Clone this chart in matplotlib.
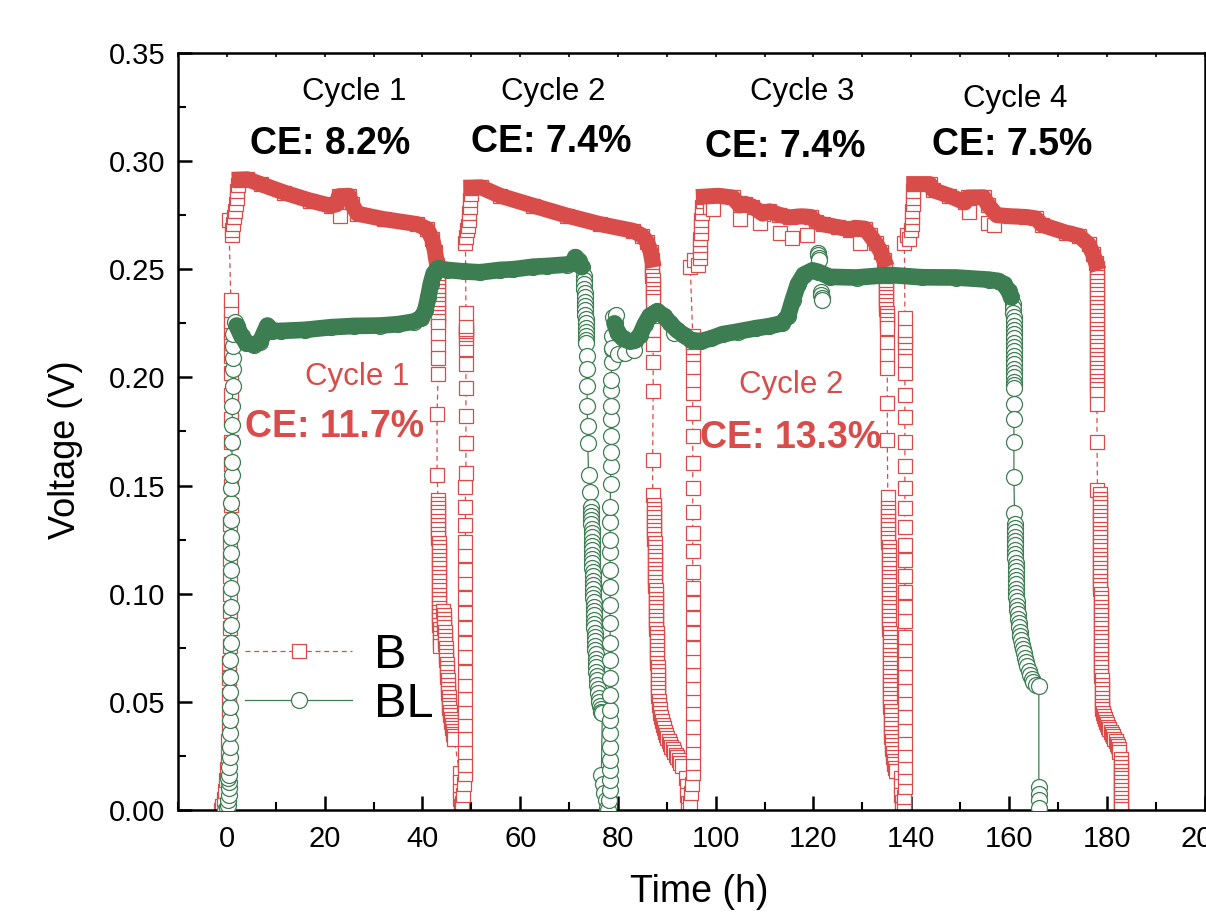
import numpy as np
import matplotlib
matplotlib.use("Agg")
import matplotlib.pyplot as plt
from matplotlib.ticker import MultipleLocator, FormatStrFormatter

RED = "#D84C49"
GREEN = "#3C7D52"

# ---------------- B (red squares), (time h, voltage V) ----------------
b_c1_rise = [(-1.2, 0.000), (-0.9, 0.002), (-0.6, 0.005), (-0.4, 0.009), (-0.2, 0.014), (0.0, 0.019),
             (0.2, 0.025), (0.3, 0.032), (0.4, 0.039), (0.4, 0.046), (0.5, 0.053), (0.5, 0.061),
             (0.5, 0.068), (0.6, 0.076), (0.6, 0.084), (0.6, 0.092), (0.6, 0.100), (0.7, 0.108),
             (0.7, 0.116), (0.7, 0.124), (0.7, 0.132), (0.8, 0.141), (0.8, 0.150), (0.8, 0.160),
             (0.8, 0.170), (0.8, 0.181), (0.8, 0.192), (0.8, 0.202), (0.8, 0.210), (0.8, 0.216),
             (0.8, 0.221), (0.8, 0.226), (0.8, 0.231), (0.8, 0.236), (0.4, 0.273)]
b_c1_top = [(1.0, 0.266), (1.1, 0.268), (1.3, 0.271), (1.5, 0.274), (1.7, 0.277), (1.8, 0.280),
            (2.0, 0.283), (2.1, 0.286), (2.3, 0.289)]
b_c1_band = [(2.6, 0.2915), (4.2, 0.2916), (6.9, 0.2894), (11.7, 0.2855), (17.1, 0.2817), (21.2, 0.2794),
             (22.4, 0.2800), (22.9, 0.2838), (25.0, 0.2840), (25.6, 0.2800), (26.7, 0.2757), (32.1, 0.2732),
             (38.9, 0.2709), (41.0, 0.2686), (42.0, 0.2640), (42.6, 0.2580), (43.0, 0.2520)]
b_c1_drop = [(43.10, 0.248), (43.10, 0.246), (43.12, 0.244), (43.12, 0.242), (43.14, 0.240), (43.14, 0.238),
             (43.16, 0.236), (43.16, 0.234), (43.18, 0.232), (43.18, 0.230), (43.20, 0.228), (43.20, 0.226),
             (43.20, 0.224), (43.2, 0.219), (43.2, 0.214), (43.2, 0.209), (43.2, 0.2015), (43.0, 0.183),
             (43.0, 0.155)]
b_c1_col1 = [(43.20, 0.1435), (43.20, 0.1415), (43.21, 0.1396), (43.22, 0.1376), (43.23, 0.1357),
             (43.24, 0.1336), (43.25, 0.1316), (43.26, 0.1297), (43.27, 0.1277), (43.28, 0.1256),
             (43.29, 0.1236), (43.30, 0.1217), (43.31, 0.1197), (43.32, 0.1176), (43.33, 0.1156),
             (43.34, 0.1137), (43.35, 0.1117), (43.36, 0.1096), (43.37, 0.1076), (43.38, 0.1057),
             (43.39, 0.1037), (43.40, 0.1016), (43.41, 0.0996), (43.42, 0.0977), (43.43, 0.0957),
             (43.44, 0.0936), (43.45, 0.0916), (43.46, 0.0897), (43.47, 0.0877), (43.48, 0.0856),
             (43.50, 0.0836), (43.52, 0.0817), (43.54, 0.0797), (43.57, 0.0776), (43.60, 0.0756)]
b_c1_col2 = [(44.30, 0.0920), (44.35, 0.0901), (44.40, 0.0882), (44.45, 0.0864), (44.50, 0.0845),
             (44.55, 0.0825), (44.60, 0.0806), (44.65, 0.0787), (44.70, 0.0768), (44.75, 0.0750),
             (44.80, 0.0731), (44.85, 0.0711), (44.90, 0.0692), (44.95, 0.0674), (45.00, 0.0655),
             (45.05, 0.0636), (45.10, 0.0617), (45.15, 0.0599), (45.20, 0.0580), (45.25, 0.0561),
             (45.30, 0.0543), (45.35, 0.0524), (45.40, 0.0505), (45.45, 0.0487), (45.50, 0.0470),
             (45.60, 0.0454), (45.70, 0.0438), (45.80, 0.0421), (45.90, 0.0405), (46.00, 0.0391),
             (46.10, 0.0378), (46.20, 0.0365), (46.30, 0.0352), (46.40, 0.0341), (46.50, 0.0330)]
b_c2_rise = [(47.6, 0.017), (47.6, 0.013), (47.7, 0.009), (47.7, 0.005), (47.8, 0.002), (47.9, 0.000),
             (48.1, 0.003), (48.3, 0.007), (48.5, 0.012), (48.7, 0.0165), (48.8, 0.0207), (48.8, 0.0269),
             (48.8, 0.0330), (48.8, 0.0392), (48.8, 0.0454), (48.8, 0.0515), (48.8, 0.0577), (48.8, 0.0639),
             (48.8, 0.0708), (48.8, 0.0770), (48.8, 0.0840), (48.8, 0.0910), (48.8, 0.0980), (48.8, 0.1049),
             (48.8, 0.1110), (48.8, 0.1179), (48.8, 0.1241), (48.8, 0.1318), (48.8, 0.1403), (48.8, 0.1495),
             (48.9, 0.1560), (48.9, 0.1698), (48.9, 0.1821), (48.9, 0.1952), (48.9, 0.2060), (48.9, 0.2130),
             (48.9, 0.2184), (48.9, 0.2200), (48.9, 0.2214), (48.9, 0.2226), (48.9, 0.2238), (48.9, 0.2299)]
b_c2_top = [(48.8, 0.2620), (49.0, 0.2650), (49.2, 0.2680), (49.4, 0.2700), (49.5, 0.2730), (49.6, 0.2760),
            (49.7, 0.2790), (49.8, 0.2820), (49.9, 0.2850)]
b_c2_band = [(50.0, 0.2878), (52.0, 0.2879), (55.9, 0.2840), (62.7, 0.2794), (69.6, 0.2748), (76.3, 0.2709),
             (83.1, 0.2678), (85.0, 0.2655), (86.0, 0.2625), (86.7, 0.2580), (87.0, 0.2545)]
b_c2_drop = [(87.00, 0.2510), (87.02, 0.2490), (87.05, 0.2470), (87.08, 0.2450), (87.10, 0.2430),
             (87.12, 0.2410), (87.15, 0.2390), (87.18, 0.2372), (87.20, 0.2355), (87.2, 0.2220),
             (87.2, 0.2155), (87.2, 0.2070), (87.2, 0.1936), (87.1, 0.1617), (87.1, 0.1458)]
b_c2_col = [(87.30, 0.1412), (87.32, 0.1392), (87.34, 0.1372), (87.36, 0.1353), (87.38, 0.1333),
            (87.40, 0.1313), (87.42, 0.1293), (87.44, 0.1274), (87.46, 0.1254), (87.48, 0.1234),
            (87.50, 0.1214), (87.52, 0.1195), (87.54, 0.1175), (87.56, 0.1155), (87.58, 0.1135),
            (87.60, 0.1116), (87.62, 0.1096), (87.64, 0.1076), (87.66, 0.1056), (87.68, 0.1037),
            (87.70, 0.1017), (87.72, 0.0997), (87.74, 0.0977), (87.76, 0.0958), (87.78, 0.0938),
            (87.80, 0.0918), (87.82, 0.0898), (87.84, 0.0879), (87.86, 0.0859), (87.88, 0.0839),
            (87.90, 0.0819), (87.92, 0.0800), (87.94, 0.0780), (87.96, 0.0760), (87.98, 0.0740),
            (88.00, 0.0721), (88.03, 0.0701), (88.06, 0.0681), (88.09, 0.0662), (88.12, 0.0642),
            (88.15, 0.0622), (88.18, 0.0603), (88.21, 0.0583), (88.24, 0.0564), (88.26, 0.0544),
            (88.28, 0.0525), (88.30, 0.0505), (88.4, 0.0486), (88.5, 0.0467), (88.6, 0.0448),
            (88.8, 0.0430), (89.0, 0.0412), (89.2, 0.0395), (89.4, 0.0378), (89.6, 0.0362),
            (89.9, 0.0347), (90.1, 0.0332), (90.4, 0.0318), (90.6, 0.0305), (90.9, 0.0292),
            (91.2, 0.0280), (91.5, 0.0268), (91.8, 0.0256), (92.1, 0.0243), (92.4, 0.0230),
            (92.7, 0.0218), (93.0, 0.0205)]
b_c3_rise = [(94.0, 0.015), (94.1, 0.011), (94.2, 0.007), (94.3, 0.003), (94.4, 0.000), (94.8, 0.003),
             (95.0, 0.008), (95.2, 0.012), (95.3, 0.017), (95.3, 0.0216), (95.3, 0.0270), (95.3, 0.0324),
             (95.3, 0.0386), (95.3, 0.0448), (95.3, 0.0509), (95.3, 0.0563), (95.3, 0.0625), (95.3, 0.0687),
             (95.3, 0.0748), (95.3, 0.0818), (95.3, 0.0887), (95.3, 0.0956), (95.3, 0.1026), (95.3, 0.1100),
             (95.3, 0.1196), (95.3, 0.1280), (95.3, 0.1380), (95.3, 0.1490), (95.3, 0.1606), (95.3, 0.1727),
             (95.3, 0.1836), (95.3, 0.1930), (95.3, 0.1990), (95.3, 0.2050), (95.3, 0.2110), (95.3, 0.2140),
             (95.3, 0.2165), (95.3, 0.2190)]
b_c3_top = [(94.8, 0.2510), (95.5, 0.2545), (96.3, 0.2520), (96.7, 0.2550), (96.7, 0.2580), (96.8, 0.2610),
            (96.8, 0.2640), (96.9, 0.2670), (97.0, 0.2700), (97.0, 0.2730), (97.1, 0.2760), (97.2, 0.2790),
            (97.3, 0.2815)]
b_c3_band = [(97.6, 0.2836), (100.5, 0.2840), (103.5, 0.2832), (104.9, 0.2795), (106.0, 0.2803), (107.5, 0.2790),
             (109.6, 0.2757), (111.0, 0.2768), (113.0, 0.2752), (115.1, 0.2740), (117.5, 0.2745), (119.5, 0.2742),
             (120.5, 0.2720), (121.9, 0.2708), (125.0, 0.2695), (127.4, 0.2683), (128.5, 0.2692), (130.5, 0.2688),
             (131.5, 0.2660), (132.8, 0.2620), (133.8, 0.2580), (134.4, 0.2545)]
b_c3_drop = [(134.70, 0.2510), (134.72, 0.2492), (134.74, 0.2475), (134.76, 0.2457), (134.78, 0.2440),
             (134.80, 0.2422), (134.82, 0.2405), (134.84, 0.2387), (134.86, 0.2370), (134.88, 0.2352),
             (134.90, 0.2335), (134.92, 0.2317), (134.94, 0.2300), (134.96, 0.2282), (134.98, 0.2265),
             (135.00, 0.2247), (135.00, 0.2230), (135.1, 0.2160), (135.1, 0.2100), (135.1, 0.2045),
             (135.1, 0.1883), (135.1, 0.1713), (135.2, 0.1448)]
b_c3_col = [(135.30, 0.1398), (135.30, 0.1378), (135.31, 0.1358), (135.31, 0.1338), (135.32, 0.1318),
            (135.32, 0.1298), (135.33, 0.1278), (135.33, 0.1258), (135.34, 0.1238), (135.35, 0.1218),
            (135.36, 0.1198), (135.37, 0.1178), (135.38, 0.1158), (135.39, 0.1138), (135.40, 0.1118),
            (135.41, 0.1098), (135.42, 0.1078), (135.43, 0.1058), (135.44, 0.1038), (135.45, 0.1018),
            (135.46, 0.0998), (135.47, 0.0978), (135.48, 0.0958), (135.49, 0.0938), (135.50, 0.0918),
            (135.51, 0.0898), (135.52, 0.0878), (135.53, 0.0858), (135.54, 0.0838), (135.55, 0.0818),
            (135.56, 0.0798), (135.57, 0.0778), (135.58, 0.0758), (135.59, 0.0738), (135.60, 0.0718),
            (135.61, 0.0698), (135.62, 0.0678), (135.63, 0.0658), (135.64, 0.0638), (135.65, 0.0618),
            (135.66, 0.0598), (135.67, 0.0578), (135.68, 0.0558), (135.69, 0.0538), (135.70, 0.0518),
            (135.72, 0.0498), (135.74, 0.0478), (135.76, 0.0458), (135.78, 0.0438), (135.80, 0.0418),
            (135.82, 0.0398), (135.85, 0.0378), (135.88, 0.0358), (135.95, 0.0338), (136.00, 0.0318),
            (136.05, 0.0299), (136.10, 0.0280), (136.20, 0.0262), (136.30, 0.0245), (136.40, 0.0228),
            (136.50, 0.0212), (136.65, 0.0196), (136.80, 0.0180)]
b_c4_rise = [(137.9, 0.0150), (138.0, 0.0110), (138.0, 0.0070), (138.1, 0.0035), (138.2, 0.0005), (138.5, 0.0023),
             (138.6, 0.0062), (138.7, 0.0108), (138.7, 0.0154), (138.7, 0.0201), (138.7, 0.0255), (138.7, 0.0310),
             (138.7, 0.0370), (138.7, 0.0432), (138.7, 0.0494), (138.7, 0.0556), (138.7, 0.0617), (138.7, 0.0680),
             (138.7, 0.0740), (138.7, 0.0802), (138.7, 0.0873), (138.7, 0.0940), (138.7, 0.1010), (138.7, 0.1080),
             (138.7, 0.1157), (138.7, 0.1227), (138.7, 0.1310), (138.7, 0.1395), (138.7, 0.1488), (138.7, 0.1590),
             (138.7, 0.1700), (138.7, 0.1815), (138.7, 0.1920), (138.7, 0.2020), (138.7, 0.2080), (138.7, 0.2140),
             (138.7, 0.2165), (138.7, 0.2190), (138.7, 0.2220), (138.7, 0.2277)]
b_c4_top = [(138.6, 0.2620), (139.2, 0.2660), (139.6, 0.2640), (140.0, 0.2680), (140.1, 0.2710), (140.2, 0.2740),
            (140.2, 0.2770), (140.3, 0.2800), (140.3, 0.2830), (140.4, 0.2860)]
b_c4_band = [(140.6, 0.2894), (143.8, 0.2894), (144.5, 0.2866), (147.8, 0.2840), (151.0, 0.2809), (151.6, 0.2832),
             (154.8, 0.2833), (155.8, 0.2795), (157.5, 0.2750), (160.5, 0.2745), (163.5, 0.2742), (165.5, 0.2735),
             (166.8, 0.2705), (171.6, 0.2670), (174.3, 0.2655), (176.3, 0.2615), (177.2, 0.2570), (177.8, 0.2530)]
b_c4_drop = [(177.95, 0.2505), (177.95, 0.2485), (177.96, 0.2465), (177.96, 0.2445), (177.97, 0.2425),
             (177.97, 0.2405), (177.98, 0.2385), (177.98, 0.2365), (177.99, 0.2345), (177.99, 0.2325),
             (178.00, 0.2305), (178.00, 0.2285), (178.00, 0.2265), (178.00, 0.2245), (178.00, 0.2225),
             (178.01, 0.2205), (178.01, 0.2185), (178.01, 0.2165), (178.02, 0.2145), (178.02, 0.2125),
             (178.02, 0.2105), (178.03, 0.2085), (178.03, 0.2065), (178.03, 0.2045), (178.04, 0.2025),
             (178.04, 0.2005), (178.04, 0.1985), (178.05, 0.1965), (178.05, 0.1945), (178.05, 0.1925),
             (178.0, 0.1875), (178.0, 0.1700), (178.1, 0.1480)]
b_c4_col = [(178.60, 0.1460), (178.60, 0.1440), (178.61, 0.1420), (178.61, 0.1400), (178.62, 0.1380),
            (178.62, 0.1360), (178.63, 0.1340), (178.63, 0.1320), (178.64, 0.1300), (178.64, 0.1280),
            (178.65, 0.1260), (178.65, 0.1240), (178.66, 0.1220), (178.66, 0.1200), (178.67, 0.1180),
            (178.67, 0.1160), (178.68, 0.1140), (178.68, 0.1120), (178.69, 0.1100), (178.69, 0.1080),
            (178.70, 0.1060), (178.70, 0.1040), (178.71, 0.1020), (178.72, 0.1000), (178.73, 0.0980),
            (178.74, 0.0960), (178.75, 0.0940), (178.76, 0.0920), (178.77, 0.0900), (178.78, 0.0880),
            (178.79, 0.0860), (178.80, 0.0840), (178.81, 0.0820), (178.82, 0.0800), (178.83, 0.0780),
            (178.84, 0.0760), (178.85, 0.0740), (178.86, 0.0720), (178.87, 0.0700), (178.88, 0.0680),
            (178.89, 0.0660), (178.90, 0.0640), (178.91, 0.0620), (178.92, 0.0600), (178.93, 0.0580),
            (178.94, 0.0560), (178.96, 0.0540), (178.98, 0.0520), (179.00, 0.0500), (179.05, 0.0482),
            (179.10, 0.0465), (179.25, 0.0450), (179.40, 0.0435), (179.60, 0.0421), (179.80, 0.0408),
            (180.05, 0.0396), (180.30, 0.0385), (180.55, 0.0373), (180.80, 0.0362), (181.05, 0.0351),
            (181.30, 0.0340), (181.55, 0.0329), (181.80, 0.0318), (182.05, 0.0306), (182.30, 0.0295),
            (182.45, 0.0282), (182.60, 0.0270)]
b_c4_end = [(182.9, 0.0236), (183.0, 0.0218), (183.0, 0.0200), (183.0, 0.0182), (183.0, 0.0164),
            (183.0, 0.0146), (183.0, 0.0128), (183.0, 0.0110), (183.0, 0.0092), (183.0, 0.0074),
            (183.0, 0.0056), (183.0, 0.0038), (183.0, 0.0020), (183.0, 0.0005)]
b_outliers = [(23.2, 0.2745), (98.8, 0.2787), (99.5, 0.2780), (104.9, 0.2731), (109.0, 0.2715), (113.1, 0.2669),
              (115.7, 0.2646), (118.6, 0.2660), (129.5, 0.2623), (151.8, 0.2765), (155.8, 0.2716), (157.0, 0.2705)]

b_segments = [b_c1_rise, b_c1_top, b_c1_band, b_c1_drop, b_c1_col1, b_c1_col2,
              b_c2_rise, b_c2_top, b_c2_band, b_c2_drop, b_c2_col,
              b_c3_rise, b_c3_top, b_c3_band, b_c3_drop, b_c3_col,
              b_c4_rise, b_c4_top, b_c4_band, b_c4_drop, b_c4_col, b_c4_end]
b_bands = [b_c1_band, b_c2_band, b_c3_band, b_c4_band]

# ---------------- BL (green circles) ----------------
g_c1_rise = [(-0.3, 0.000), (0.0, 0.001), (0.2, 0.0023), (0.3, 0.0046), (0.4, 0.0070), (0.4, 0.0102),
             (0.4, 0.0130), (0.2, 0.0150), (0.5, 0.0162), (0.5, 0.0199), (0.6, 0.0245), (0.6, 0.0292),
             (0.6, 0.0356), (0.7, 0.0417), (0.7, 0.0477), (0.7, 0.0546), (0.7, 0.0616), (0.7, 0.0694),
             (0.8, 0.0773), (0.8, 0.0856), (0.8, 0.0940), (0.8, 0.1028), (0.8, 0.1110), (0.8, 0.1190),
             (0.9, 0.1260), (0.9, 0.1340), (0.9, 0.1420), (0.9, 0.1490), (1.0, 0.1550), (1.0, 0.1610),
             (1.1, 0.1700), (1.1, 0.1780), (1.1, 0.1866), (1.2, 0.1960), (1.2, 0.2037), (1.2, 0.2090),
             (1.3, 0.2144), (1.3, 0.2200), (1.6, 0.2254)]
g_c1_band = [(2.0, 0.2240), (3.0, 0.2190), (4.0, 0.2160), (5.5, 0.2150), (6.8, 0.2165), (7.6, 0.2205),
             (8.3, 0.2240), (9.3, 0.2215), (11.0, 0.2215), (16.0, 0.2220), (21.2, 0.2232), (26.0, 0.2238),
             (31.4, 0.2240), (35.0, 0.2246), (38.2, 0.2258), (39.8, 0.2275), (40.6, 0.2310), (41.2, 0.2370),
             (41.7, 0.2430), (42.3, 0.2480), (43.2, 0.2505), (45.0, 0.2497), (48.5, 0.2490), (51.8, 0.2486),
             (55.9, 0.2497), (58.6, 0.2500), (62.7, 0.2512), (65.4, 0.2515), (69.6, 0.2522), (70.7, 0.2530),
             (71.3, 0.2556), (72.0, 0.2540), (72.6, 0.2510)]
g_c2_drop = [(73.00, 0.2470), (73.05, 0.2450), (73.10, 0.2430), (73.15, 0.2410), (73.20, 0.2390),
             (73.25, 0.2370), (73.30, 0.2350), (73.30, 0.2330), (73.35, 0.2310), (73.35, 0.2290),
             (73.40, 0.2270), (73.40, 0.2250), (73.45, 0.2230), (73.45, 0.2210), (73.50, 0.2190),
             (73.50, 0.2175), (73.50, 0.2160), (73.6, 0.2099), (73.6, 0.2037), (73.7, 0.1960),
             (73.7, 0.1867), (73.8, 0.1775), (73.8, 0.1698), (74.0, 0.1550), (74.2, 0.1468),
             (74.50, 0.1400), (74.52, 0.1380), (74.54, 0.1360), (74.56, 0.1340), (74.58, 0.1320),
             (74.60, 0.1300), (74.62, 0.1280), (74.64, 0.1260), (74.66, 0.1240), (74.68, 0.1220),
             (74.70, 0.1200), (74.72, 0.1180), (74.74, 0.1160), (74.76, 0.1140), (74.78, 0.1120),
             (74.80, 0.1100), (74.83, 0.1080), (74.86, 0.1060), (74.89, 0.1040), (74.92, 0.1020),
             (74.95, 0.1000), (74.98, 0.0980), (75.01, 0.0960), (75.04, 0.0940), (75.07, 0.0920),
             (75.10, 0.0900), (75.13, 0.0880), (75.16, 0.0860), (75.19, 0.0840), (75.22, 0.0820),
             (75.25, 0.0800), (75.29, 0.0780), (75.33, 0.0760), (75.37, 0.0740), (75.41, 0.0720),
             (75.45, 0.0700), (75.50, 0.0680), (75.55, 0.0660), (75.60, 0.0640), (75.66, 0.0620),
             (75.72, 0.0600), (75.80, 0.0580), (75.88, 0.0560), (75.97, 0.0540), (76.07, 0.0520),
             (76.18, 0.0500), (76.30, 0.0482), (76.45, 0.0466), (76.60, 0.0455), (76.80, 0.0450),
             (76.6, 0.0160), (76.9, 0.0120), (77.2, 0.0080), (77.5, 0.0045), (77.8, 0.0010)]
g_c2_rise = [(78.0, 0.0000), (78.2, 0.0046), (78.3, 0.0093), (78.3, 0.0139), (78.4, 0.0185), (78.4, 0.0231),
             (78.4, 0.0290), (78.4, 0.0355), (78.4, 0.0417), (78.4, 0.0463), (78.4, 0.0532), (78.4, 0.0610),
             (78.4, 0.0694), (78.4, 0.0773), (78.4, 0.0866), (78.4, 0.0949), (78.4, 0.1032), (78.4, 0.1110),
             (78.4, 0.1194), (78.4, 0.1250), (78.4, 0.1333), (78.4, 0.1403), (78.5, 0.1505), (78.5, 0.1590),
             (78.5, 0.1657), (78.5, 0.1727), (78.6, 0.1806), (78.6, 0.1866), (78.6, 0.1944), (78.6, 0.1990),
             (78.7, 0.2070), (78.7, 0.2130), (78.8, 0.2190), (78.9, 0.2280)]
g_c2_band = [(79.3, 0.2250), (80.0, 0.2205), (81.0, 0.2180), (82.5, 0.2165), (83.5, 0.2170), (84.5, 0.2195),
             (85.5, 0.2245), (86.5, 0.2285), (88.0, 0.2305), (89.5, 0.2282), (90.6, 0.2252), (92.0, 0.2220),
             (93.5, 0.2195), (95.0, 0.2172), (97.0, 0.2168), (99.0, 0.2180), (101.4, 0.2200), (104.5, 0.2212),
             (108.3, 0.2228), (111.0, 0.2237), (113.5, 0.2250), (114.8, 0.2285), (115.8, 0.2360), (116.8, 0.2430),
             (118.0, 0.2475), (119.8, 0.2495), (121.0, 0.2488), (123.3, 0.2465), (128.8, 0.2462), (135.5, 0.2474),
             (142.2, 0.2463), (149.2, 0.2462), (155.9, 0.2452), (157.8, 0.2446), (159.0, 0.2430), (159.9, 0.2400),
             (160.5, 0.2370)]
g_c3_drop = [(160.80, 0.2340), (160.85, 0.2320), (160.90, 0.2300), (160.92, 0.2280), (160.95, 0.2260),
             (160.97, 0.2240), (161.00, 0.2220), (161.00, 0.2200), (161.00, 0.2180), (161.00, 0.2160),
             (161.00, 0.2140), (161.00, 0.2120), (161.00, 0.2100), (161.00, 0.2080), (161.00, 0.2060),
             (161.00, 0.2040), (161.00, 0.2020), (161.00, 0.2000), (161.00, 0.1980), (161.00, 0.1965),
             (161.00, 0.1950), (161.0, 0.1875), (161.0, 0.1806), (161.0, 0.1700), (161.0, 0.1540),
             (161.1, 0.1375), (161.15, 0.1324), (161.17, 0.1304), (161.19, 0.1284), (161.21, 0.1264),
             (161.23, 0.1244), (161.25, 0.1224), (161.27, 0.1204), (161.29, 0.1184), (161.31, 0.1164),
             (161.33, 0.1144), (161.35, 0.1124), (161.37, 0.1104), (161.39, 0.1084), (161.41, 0.1064),
             (161.43, 0.1044), (161.46, 0.1024), (161.49, 0.1004), (161.53, 0.0984), (161.58, 0.0964),
             (161.65, 0.0944), (161.72, 0.0924), (161.80, 0.0904), (161.90, 0.0884), (162.00, 0.0864),
             (162.10, 0.0844), (162.20, 0.0824), (162.30, 0.0804), (162.45, 0.0784), (162.60, 0.0764),
             (162.80, 0.0744), (163.00, 0.0724), (163.20, 0.0704), (163.45, 0.0684), (163.70, 0.0664),
             (164.00, 0.0644), (164.30, 0.0625), (164.65, 0.0606), (165.00, 0.0590), (165.50, 0.0580),
             (166.10, 0.0571), (166.1, 0.0106), (166.1, 0.0075), (166.1, 0.0045), (166.1, 0.0010)]
g_outliers = [(78.8, 0.2135), (80.0, 0.2110), (81.5, 0.2115), (83.2, 0.2125), (79.5, 0.2290), (91.4, 0.2205),
              (120.9, 0.2577), (121.0, 0.2565), (121.1, 0.2553), (121.2, 0.2541), (121.5, 0.2395),
              (121.6, 0.2380), (121.7, 0.2368), (121.8, 0.2358)]

g_segments = [g_c1_rise, g_c1_band, g_c2_drop, g_c2_rise, g_c2_band, g_c3_drop]
g_bands = [g_c1_band, g_c2_band]

# ---------------- annotations ----------------
black_labels = ["Cycle 1", "Cycle 2", "Cycle 3", "Cycle 4"]
black_label_pos = [(26.0, 0.3283), (66.7, 0.3283), (117.7, 0.3283), (161.2, 0.3250)]
black_ce = ["CE: 8.2%", "CE: 7.4%", "CE: 7.4%", "CE: 7.5%"]
black_ce_pos = [(21.1, 0.3033), (66.3, 0.3042), (114.2, 0.3019), (160.6, 0.3028)]
red_labels = ["Cycle 1", "Cycle 2"]
red_label_pos = [(26.6, 0.1965), (115.4, 0.1928)]
red_ce = ["CE: 11.7%", "CE: 13.3%"]
red_ce_pos = [(22.1, 0.1725), (115.4, 0.1674)]


def to_xy(segments):
    pts = np.array([p for seg in segments for p in seg])
    return pts[:, 0], pts[:, 1]


plt.rcParams["font.family"] = ["Liberation Sans", "DejaVu Sans"]

fig = plt.figure(figsize=(12.06, 9.14), dpi=100)
ax = fig.add_axes([0.1476, 0.1138, 0.8512, 0.8282])

sq = dict(marker="s", ms=10, mfc="white", mec=RED, mew=0.9)
ci = dict(marker="o", ms=11.5, mfc="white", mec=GREEN, mew=0.9)

# B series
t, v = to_xy(b_segments)
ax.plot(t, v, color=RED, lw=0.9, dashes=(4, 3), label="B", zorder=2, **sq)
t, v = to_xy([b_outliers])
ax.plot(t, v, ls="none", zorder=2.05, **sq)
for seg in b_bands:
    t, v = to_xy([seg])
    ax.plot(t, v, color=RED, lw=11.5, solid_capstyle="projecting", solid_joinstyle="round", zorder=2.1)

# BL series
t, v = to_xy(g_segments)
ax.plot(t, v, color=GREEN, lw=0.9, label="BL", zorder=3, **ci)
t, v = to_xy([g_outliers])
ax.plot(t, v, ls="none", zorder=3.05, **ci)
for seg in g_bands:
    t, v = to_xy([seg])
    ax.plot(t, v, color=GREEN, lw=12, solid_capstyle="round", solid_joinstyle="round", zorder=3.1)

for txt, (x, y) in zip(black_labels, black_label_pos):
    ax.text(x, y, txt, fontsize=22.5, ha="center", va="baseline", color="black", zorder=5)
for txt, (x, y) in zip(black_ce, black_ce_pos):
    ax.text(x, y, txt, fontsize=27, fontweight="bold", ha="center", va="baseline", color="black", zorder=5)
for txt, (x, y) in zip(red_labels, red_label_pos):
    ax.text(x, y, txt, fontsize=22.5, ha="center", va="baseline", color=RED, zorder=5)
for txt, (x, y) in zip(red_ce, red_ce_pos):
    ax.text(x, y, txt, fontsize=27, fontweight="bold", ha="center", va="baseline", color=RED, zorder=5)

ax.set_xlim(-10, 200)
ax.set_ylim(0, 0.35)
ax.xaxis.set_major_locator(MultipleLocator(20))
ax.xaxis.set_minor_locator(MultipleLocator(10))
ax.yaxis.set_major_locator(MultipleLocator(0.05))
ax.yaxis.set_minor_locator(MultipleLocator(0.025))
ax.xaxis.set_major_formatter(FormatStrFormatter("%d"))
ax.yaxis.set_major_formatter(FormatStrFormatter("%.2f"))
ax.tick_params(which="major", direction="in", length=10, width=1.8, labelsize=21, pad=9)
ax.tick_params(which="minor", direction="in", length=5.5, width=1.5)
ax.tick_params(axis="x", which="major", pad=11)
for s in ax.spines.values():
    s.set_linewidth(1.8)

top = ax.secondary_xaxis("top")
top.xaxis.set_major_locator(MultipleLocator(10))
top.tick_params(direction="in", length=3, width=1.2, labeltop=False)

ax.set_xlabel("Time (h)", fontsize=27)
ax.set_ylabel("Voltage (V)", fontsize=26)
ax.xaxis.set_label_coords(0.5076, -0.084)
ax.yaxis.set_label_coords(-0.0924, 0.4756)

ax.legend(loc="center left", bbox_to_anchor=(0.0653, 0.172), frameon=False, fontsize=35,
          handlelength=2.2, handletextpad=0.45, borderpad=0, borderaxespad=0,
          labelspacing=0.08, numpoints=1)

fig.savefig("out.png", dpi=100)
